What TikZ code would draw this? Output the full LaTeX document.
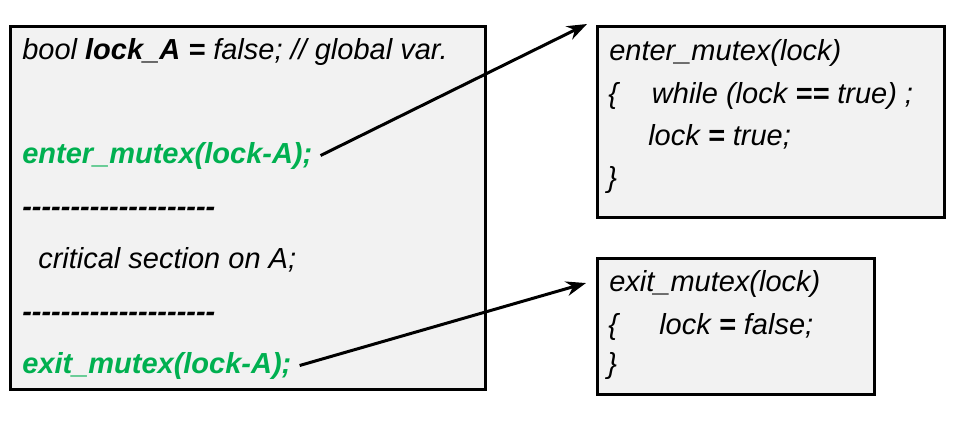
\documentclass[tikz,border=0pt]{standalone}
\usepackage{fontspec}
\setmainfont{Liberation Sans}
\usepackage{tikz}
\usetikzlibrary{arrows.meta}
\definecolor{codegreen}{HTML}{00B050}
\definecolor{boxgray}{HTML}{F2F2F2}
\newcommand{\dashrow}{-{}-{}-{}-{}-{}-{}-{}-{}-{}-{}-{}-{}-{}-{}-{}-{}-{}-{}-{}-}
\tikzstyle{codebox} = [rectangle, draw=black, line width=2.25pt, fill=boxgray, anchor=north west, inner sep=0pt, outer sep=0pt]
\tikzstyle{codeline} = [anchor=base west, inner sep=0pt, font=\fontsize{21.75}{26}\selectfont\itshape]
\tikzstyle{callline} = [codeline, font=\fontsize{21.75}{26}\selectfont\itshape\bfseries, text=codegreen]
\tikzstyle{arrow} = [line width=2.25pt, -{Stealth[length=15pt,width=11pt]}]

\begin{document}
\begin{tikzpicture}[x=0.75pt, y=-0.75pt]
\useasboundingbox (0,0) rectangle (957,425);
% code boxes
\node (mainbox) [codebox, minimum width=355.9pt, minimum height=272.6pt] at (10.5,26) {};
\node (enterbox) [codebox, minimum width=260.3pt, minimum height=143.6pt] at (597,26) {};
\node (exitbox) [codebox, minimum width=208.1pt, minimum height=102pt] at (597,258.5) {};

% program using the lock
\node (globalline) [codeline] at (22,59) {bool \textbf{lock\_A =} false; // global var.};
\node (enterline) [callline] at (22,163) {enter\_mutex(lock-A);};
\node (dashtop) [codeline, font=\fontsize{21.75}{26}\selectfont\itshape\bfseries] at (22,216) {\dashrow};
\node (critline) [codeline] at (38,268) {critical section on A;};
\node (dashbottom) [codeline, font=\fontsize{21.75}{26}\selectfont\itshape\bfseries] at (22,321) {\dashrow};
\node (exitline) [callline] at (22,373) {exit\_mutex(lock-A);};

% enter_mutex body
\node (entertitle) [codeline] at (609,60) {enter\_mutex(lock)};
\node (enterwait) [codeline] at (608,103) {\{\hspace{25.5pt}while (lock \textbf{==} true) ;};
\node (enterset) [codeline] at (648,145) {lock \textbf{=} true;};
\node (enterclose) [codeline] at (607,187) {\}};

% exit_mutex body
\node (exittitle) [codeline] at (609,291) {exit\_mutex(lock)};
\node (exitset) [codeline] at (608,334) {\{\hspace{31pt}lock \textbf{=} false;};
\node (exitclose) [codeline] at (607,373) {\}};

\coordinate (entertip) at ([xshift=-7.5pt,yshift=1.5pt]enterbox.north west);
\coordinate (exittip) at ([xshift=-8.25pt,yshift=-18.4pt]exitbox.north west);
\draw [arrow] ([xshift=6pt]enterline.east) -- (entertip);
\draw [arrow] ([xshift=6pt]exitline.east) -- (exittip);
\end{tikzpicture}
\end{document}
